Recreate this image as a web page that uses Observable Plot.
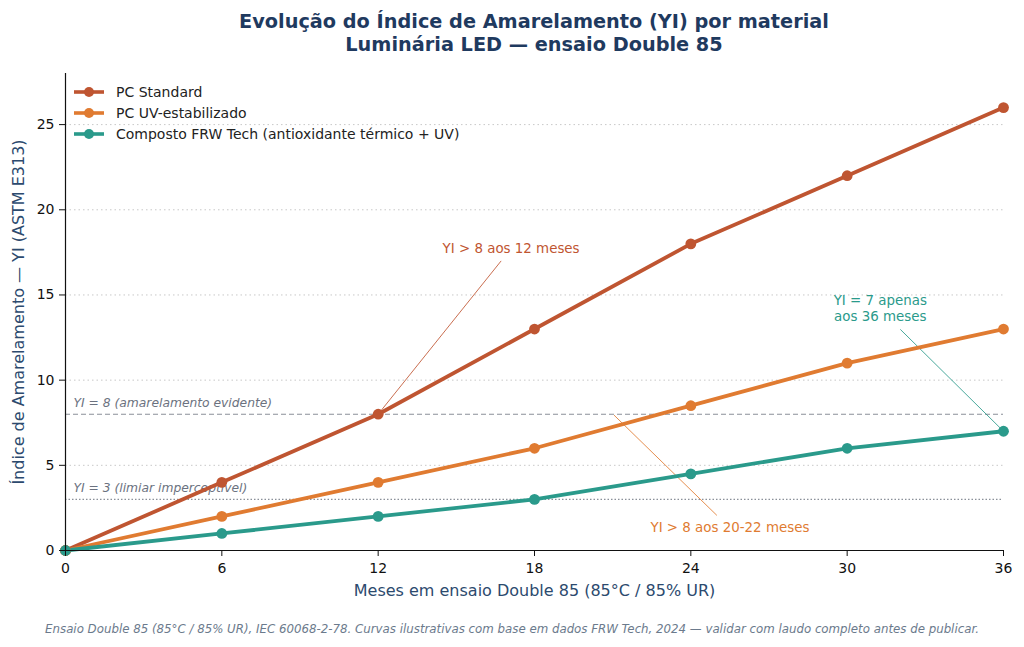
<!DOCTYPE html>
<html>
<head>
<meta charset="utf-8">
<script src="https://cdn.jsdelivr.net/npm/d3@7"></script>
<script src="https://cdn.jsdelivr.net/npm/@observablehq/plot@0.6"></script>
<style>
  body { margin: 0; background: #fff; font-family: "DejaVu Sans", sans-serif; }
  #wrap { position: relative; width: 1024px; height: 647px; }
  #title { position: absolute; top: 10px; left: 44px; width: 980px; text-align: center; font-weight: bold; font-size: 19.3px; line-height: 23px; color: #1f3a5f; }
  #chart { position: absolute; top: 56px; left: 0; }
  #legend { position: absolute; top: 81px; left: 72px; font-size: 14px; color: #222; }
  #legend .row { height: 21px; display: flex; align-items: center; }
  #legend svg { margin-right: 10px; }
  #caption { position: absolute; top: 622px; left: 0; width: 1024px; text-align: center; font-style: italic; font-size: 11.8px; color: #6b7a8c; }
</style>
</head>
<body>
<div id="wrap">
  <div id="title">Evolução do Índice de Amarelamento (YI) por material<br>Luminária LED — ensaio Double 85</div>
  <div id="chart"></div>
  <div id="legend"></div>
  <div id="caption">Ensaio Double 85 (85°C / 85% UR), IEC 60068-2-78. Curvas ilustrativas com base em dados FRW Tech, 2024 — validar com laudo completo antes de publicar.</div>
</div>
<script>
// ---- data ----
const months = [0, 6, 12, 18, 24, 30, 36];
const pcStandard = [0, 4, 8, 13, 18, 22, 26];
const pcUV = [0, 2, 4, 6, 8.5, 11, 13];
const frwTech = [0, 1, 2, 3, 4.5, 6, 7];
const seriesNames = ["PC Standard", "PC UV-estabilizado", "Composto FRW Tech (antioxidante térmico + UV)"];
const seriesColors = ["#bf5531", "#e07b31", "#2a9a8b"];
const xTicks = [0, 6, 12, 18, 24, 30, 36];
const yTicks = [0, 5, 10, 15, 20, 25];
const gridTicks = [5, 10, 15, 20, 25];
const refValues = [8, 3];
const refLabels = ["YI = 8 (amarelamento evidente)", "YI = 3 (limiar imperceptível)"];
const annTexts = ["YI > 8 aos 12 meses", "YI > 8 aos 20-22 meses", "YI = 7 apenas\naos 36 meses"];
const annTextX = [17.1, 25.5, 31.27];
const annTextY = [17.76, 1.41, 14.24];
const annFromX = [12, 21.05, 36];
const annFromY = [8, 7.95, 7];
const annToX = [16.72, 25.0, 32.04];
const annToY = [17.0, 2.06, 12.98];
const annColorIdx = [0, 1, 2];

// ---- build tables ----
const values = [pcStandard, pcUV, frwTech];
const rows = seriesNames.flatMap((s, i) => months.map((m, j) => ({series: s, month: m, yi: values[i][j]})));
const refs = refValues.map((v, i) => ({v, label: refLabels[i]}));
const anns = annTexts.map((t, i) => ({
  text: t, tx: annTextX[i], ty: annTextY[i], x1: annFromX[i], y1: annFromY[i], x2: annToX[i], y2: annToY[i],
  color: seriesColors[annColorIdx[i]]
}));

const plot = Plot.plot({
  width: 1024,
  height: 550,
  marginLeft: 65,
  marginRight: 21,
  marginTop: 17,
  marginBottom: 56,
  style: {fontFamily: "DejaVu Sans, sans-serif", background: "white", overflow: "visible"},
  x: {domain: [0, 36]},
  y: {domain: [0, 28]},
  color: {domain: seriesNames, range: seriesColors},
  marks: [
    Plot.ruleY(gridTicks, {stroke: "#c8c8c8", strokeDasharray: "1.5,3", strokeWidth: 1}),
    Plot.ruleY(refs.slice(0, 1), {y: "v", stroke: "#8a9099", strokeDasharray: "5,3", strokeWidth: 1.1}),
    Plot.ruleY(refs.slice(1), {y: "v", stroke: "#8a9099", strokeDasharray: "1.5,2", strokeWidth: 1.1}),
    Plot.text(refs, {x: () => 0, y: "v", text: "label", textAnchor: "start", dx: 8, dy: -11, fontStyle: "italic", fill: "#6b7280", fontSize: 12.3}),
    Plot.link(anns, {x1: "x1", y1: "y1", x2: "x2", y2: "y2", stroke: "color", strokeWidth: 1, strokeOpacity: 0.85}),
    Plot.line(rows, {x: "month", y: "yi", stroke: "series", strokeWidth: 3.8}),
    Plot.dot(rows, {x: "month", y: "yi", fill: "series", r: 5.4}),
    Plot.text(anns, {x: "tx", y: "ty", text: "text", fill: "color", fontSize: 13.4, lineHeight: 1.2, textAnchor: "middle"}),
    Plot.ruleX([0], {stroke: "#111", strokeWidth: 1.2}),
    Plot.ruleY([0], {stroke: "#111", strokeWidth: 1.2}),
    Plot.axisX({ticks: xTicks, tickSize: 6, tickPadding: 7, fontSize: 14, color: "#111", label: null}),
    Plot.axisY({ticks: yTicks, tickSize: 6, tickPadding: 5, fontSize: 14, color: "#111", label: null}),
    Plot.text(["Meses em ensaio Double 85 (85°C / 85% UR)"], {frameAnchor: "bottom", lineAnchor: "middle", dy: 40, fontSize: 16, fill: "#2c4a6e"}),
    Plot.text(["Índice de Amarelamento — YI (ASTM E313)"], {frameAnchor: "left", textAnchor: "middle", lineAnchor: "middle", dx: -47, rotate: -90, fontSize: 16, fill: "#2c4a6e"})
  ]
});
document.getElementById("chart").appendChild(plot);

// ---- legend ----
const legend = document.getElementById("legend");
seriesNames.forEach((s, i) => {
  const row = document.createElement("div");
  row.className = "row";
  row.innerHTML = `<svg width="34" height="12"><line x1="2" y1="6" x2="32" y2="6" stroke="${seriesColors[i]}" stroke-width="3.6"/><circle cx="17" cy="6" r="5" fill="${seriesColors[i]}"/></svg><span>${s}</span>`;
  legend.appendChild(row);
});
</script>
</body>
</html>
